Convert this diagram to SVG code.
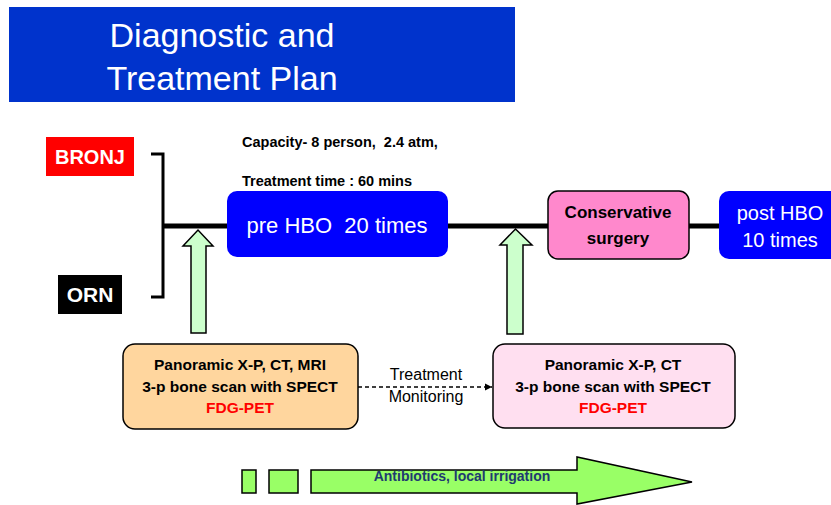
<svg xmlns="http://www.w3.org/2000/svg" width="831" height="505" viewBox="0 0 831 505">
<style>
text{font-family:"Liberation Sans",Arial,sans-serif}
.b{font-weight:bold}
.w{fill:#fff}
.k{fill:#000}
.ln{stroke:#000;fill:none}
.up{fill:#ccffcc;stroke:#000;stroke-width:1.5}
.blue{fill:#0000ff}
.ex{fill:#000;font-size:15.5px;font-weight:bold;text-anchor:middle}
.ex.red{fill:#ff0000}
</style>
<defs>
<marker id="ah" markerWidth="8" markerHeight="8" refX="7" refY="4" orient="auto" markerUnits="userSpaceOnUse">
<path d="M0,0.5 L7,4 L0,7.5 Z" fill="#000"/>
</marker>
</defs>
<rect width="831" height="505" fill="#fff"/>
<g id="title">
<rect x="9" y="7" width="506" height="95" fill="#0033cc"/>
<text x="222" y="47" class="w" font-size="34" text-anchor="middle">Diagnostic and</text>
<text x="222" y="90" class="w" font-size="34" text-anchor="middle">Treatment Plan</text>
</g>
<g id="connectors">
<path class="ln" stroke-width="5" d="M163,226 H720"/>
<path class="ln" stroke-width="3" d="M151,154 H163 V297 H151"/>
<path class="ln" stroke-width="1.3" stroke-dasharray="4,3" d="M358,387 H492" marker-end="url(#ah)"/>
<text x="426" y="380" class="k" font-size="16" text-anchor="middle">Treatment</text>
<text x="426" y="402" class="k" font-size="16" text-anchor="middle">Monitoring</text>
<polygon class="up" points="191,333 191,246 183,246 198,230 213,246 206,246 206,333"/>
<polygon class="up" points="507,334 507,245 500,245 515.5,229 532,245 523,245 523,334"/>
</g>
<g id="bronj">
<rect x="46" y="137" width="88" height="39" fill="#ff0000"/>
<text x="90" y="164" class="w b" font-size="20" text-anchor="middle">BRONJ</text>
</g>
<g id="orn">
<rect x="58" y="275" width="64" height="39" fill="#000"/>
<text x="90" y="302" class="w b" font-size="21" text-anchor="middle">ORN</text>
</g>
<g id="capacity">
<text x="242" y="147" class="k b" font-size="14.5" xml:space="preserve">Capacity- 8 person,  2.4 atm,</text>
<text x="242" y="186" class="k b" font-size="14.5">Treatment time : 60 mins</text>
</g>
<g id="pre-hbo">
<rect x="227" y="191" width="221" height="66" rx="10" class="blue"/>
<text x="337" y="233" class="w" font-size="22" text-anchor="middle" xml:space="preserve">pre HBO  20 times</text>
</g>
<g id="surgery">
<rect x="548" y="191" width="141" height="68" rx="10" fill="#ff88cc" stroke="#000" stroke-width="1.5"/>
<text x="618" y="218" class="k b" font-size="17" text-anchor="middle">Conservative</text>
<text x="618" y="244" class="k b" font-size="17" text-anchor="middle">surgery</text>
</g>
<g id="post-hbo">
<rect x="719" y="191" width="130" height="68" rx="10" class="blue"/>
<text x="780" y="220" class="w" font-size="20" text-anchor="middle">post HBO</text>
<text x="780" y="247" class="w" font-size="20" text-anchor="middle">10 times</text>
</g>
<g id="exam1">
<rect x="123" y="344" width="235" height="85" rx="12" fill="#ffd69e" stroke="#000" stroke-width="1.5"/>
<text x="240" y="370" class="ex">Panoramic X-P, CT, MRI</text>
<text x="240" y="392" class="ex">3-p bone scan with SPECT</text>
<text x="240" y="413" class="ex red">FDG-PET</text>
</g>
<g id="exam2">
<rect x="493" y="344" width="242" height="84" rx="12" fill="#ffdff0" stroke="#000" stroke-width="1.5"/>
<text x="613" y="370" class="ex">Panoramic X-P, CT</text>
<text x="613" y="392" class="ex">3-p bone scan with SPECT</text>
<text x="613" y="413" class="ex red">FDG-PET</text>
</g>
<g id="antibiotics">
<rect x="242" y="470" width="14" height="23" fill="#99ff66" stroke="#000" stroke-width="1.5"/>
<rect x="269" y="470" width="29" height="23" fill="#99ff66" stroke="#000" stroke-width="1.5"/>
<polygon points="311,470 577,470 577,457 692,482 577,504 577,493 311,493" fill="#99ff66" stroke="#000" stroke-width="1.5"/>
<text x="462" y="481" class="b" font-size="14" fill="#1f3a70" text-anchor="middle">Antibiotics, local irrigation</text>
</g>
</svg>
